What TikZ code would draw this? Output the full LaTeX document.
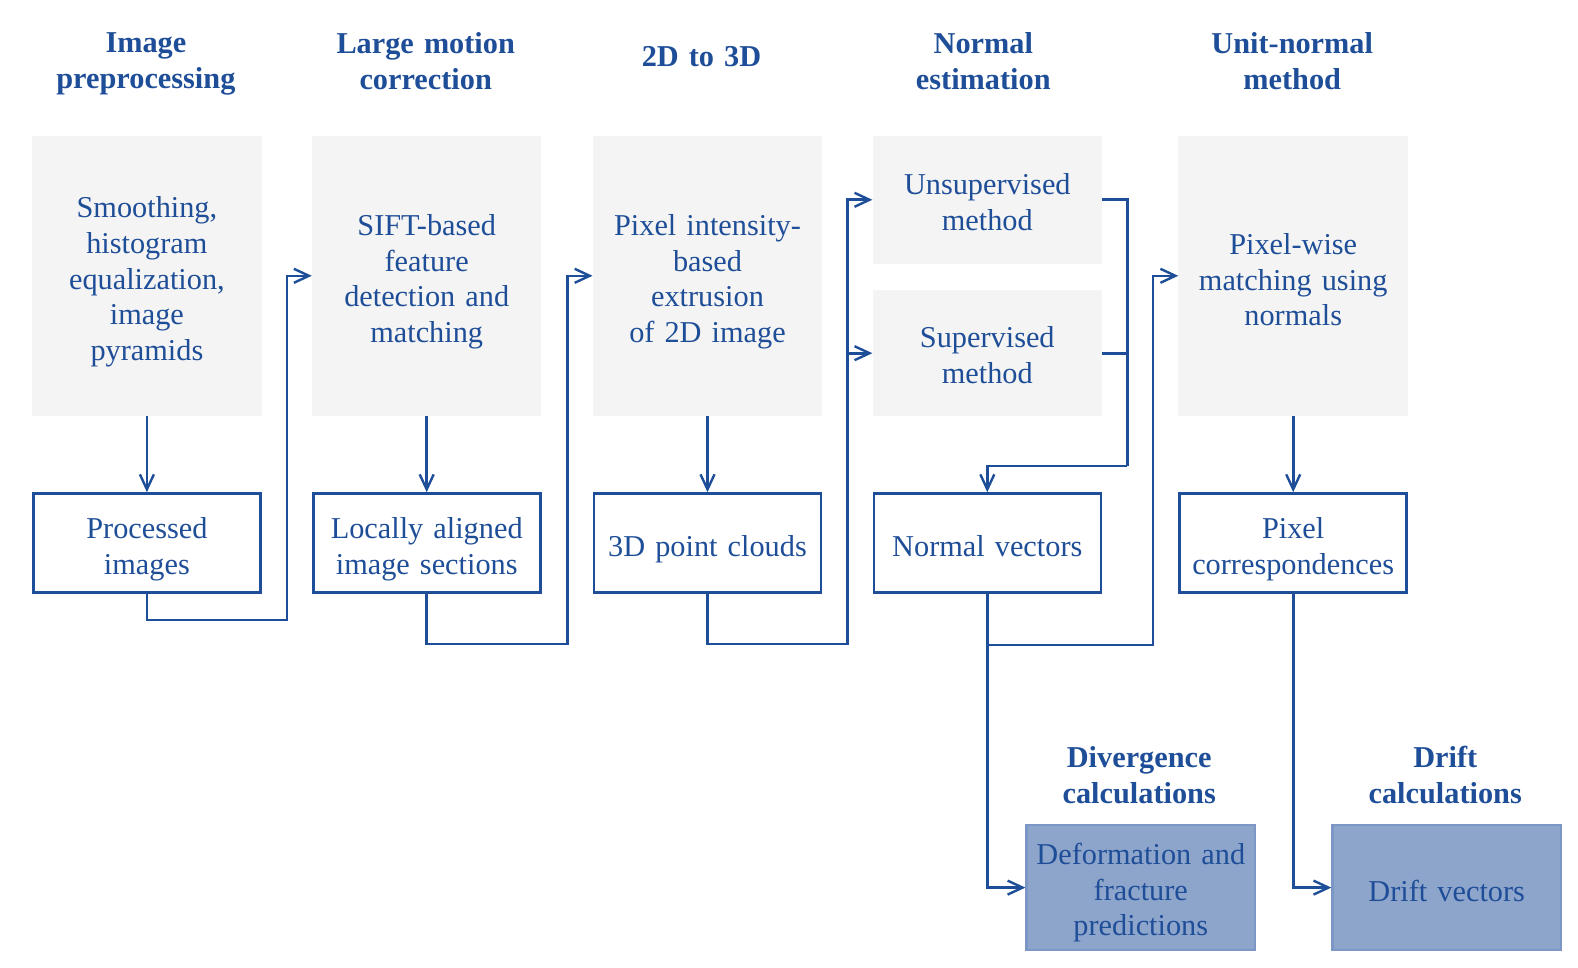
\documentclass[tikz,border=0pt]{standalone}
\usepackage{fontspec}
\setmainfont{Liberation Serif}
\usetikzlibrary{arrows.meta}
\definecolor{dblue}{HTML}{1F4E98}
\definecolor{boxgray}{HTML}{F4F4F4}
\definecolor{fillblue}{HTML}{8DA4CB}
\definecolor{fillborder}{HTML}{7C96C6}
\begin{document}%
\begin{tikzpicture}[x=1pt,y=-1pt,
  txt/.style={text=dblue, font=\fontsize{30.3}{35.7}\selectfont, align=center, inner sep=0pt, text width=226pt},
  hdr/.style={txt, font=\fontsize{30.3}{35.7}\selectfont\bfseries},
  gbox/.style={fill=boxgray, minimum width=229.5pt, inner sep=0pt},
  obox/.style={draw=dblue, line width=2.6pt, fill=white, minimum width=227pt, minimum height=99pt, inner sep=0pt},
  fbox/.style={draw=fillborder, line width=2.2pt, fill=fillblue, minimum width=228.5pt, minimum height=124.6pt, inner sep=0pt},
  conn/.style={draw=dblue, line width=2.6pt, -{Straight Barb[length=15pt,width=14pt,line width=2.4pt]}},
  plain/.style={draw=dblue, line width=2.6pt}]
\useasboundingbox (0,0) rectangle (1578,968);

% headers
\node[hdr] (h1) at (145.9,64) {Image\\preprocessing};
\node[hdr] (h2) at (425.7,61) {Large motion\\correction};
\node[hdr] (h3) at (701.5,57) {2D to 3D};
\node[hdr] (h4) at (983.3,61) {Normal\\estimation};
\node[hdr] (h5) at (1292.2,61) {Unit-normal\\method};
\node[hdr] (h6) at (1139.2,775) {Divergence\\calculations};
\node[hdr] (h7) at (1445.2,775) {Drift\\calculations};

% gray boxes
\node[gbox, minimum height=279.8pt] (b1) at (146.9,275.8) {};
\node[gbox, minimum height=279.8pt] (b2) at (426.7,275.8) {};
\node[gbox, minimum height=279.8pt] (b3) at (707.5,275.8) {};
\node[gbox, minimum height=127.8pt] (bu) at (987.3,199.8) {};
\node[gbox, minimum height=125.8pt] (bs) at (987.3,353.2) {};
\node[gbox, minimum height=279.8pt] (b5) at (1293.2,275.8) {};

% outlined boxes
\node[obox] (o1) at (146.9,543) {};
\node[obox] (o2) at (426.7,543) {};
\node[obox] (o3) at (707.5,543) {};
\node[obox] (o4) at (987.3,543) {};
\node[obox] (o5) at (1293.2,543) {};

% filled boxes
\node[fbox] (f1) at (1140.8,887.6) {};
\node[fbox] (f2) at (1446.7,887.6) {};

% box texts
\node[txt] (t1) at ([yshift=-6pt]b1.center) {Smoothing,\\histogram\\equalization,\\image\\pyramids};
\node[txt] (t2) at ([yshift=-6pt]b2.center) {SIFT-based\\feature\\detection and\\matching};
\node[txt] (t3) at ([yshift=-6pt]b3.center) {Pixel intensity-\\based\\extrusion\\of 2D image};
\node[txt] (tu) at ([yshift=-2pt]bu.center) {Unsupervised\\method};
\node[txt] (ts) at ([yshift=-2pt]bs.center) {Supervised\\method};
\node[txt] (t5) at ([yshift=-4pt]b5.center) {Pixel-wise\\matching using\\normals};
\node[txt] (s1) at ([yshift=-6pt]o1.center) {Processed\\images};
\node[txt] (s2) at ([yshift=-6pt]o2.center) {Locally aligned\\image sections};
\node[txt] (s3) at ([yshift=-6pt]o3.center) {3D point clouds};
\node[txt] (s4) at ([yshift=-3pt]o4.center) {Normal vectors};
\node[txt] (s5) at ([yshift=-6pt]o5.center) {Pixel\\correspondences};
\node[txt] (u1) at ([yshift=-5pt]f1.center) {Deformation and\\fracture\\predictions};
\node[txt] (u2) at ([yshift=-3pt]f2.center) {Drift vectors};

% junction coordinates
\coordinate (j1) at (146.9,620);
\coordinate (j2) at (286.8,275.8);
\coordinate (j3) at (426.7,644.1);
\coordinate (j4) at (567.6,275.8);
\coordinate (j5) at (707.5,644.1);
\coordinate (j6) at (847.4,199.8);
\coordinate (j6b) at (847.4,353.2);
\coordinate (j7) at (1127.2,199.8);
\coordinate (j7b) at (1127.2,353.2);
\coordinate (j8) at (1127.2,466);
\coordinate (j9) at (987.3,466);
\coordinate (j10) at (987.3,645.1);
\coordinate (j11) at (1152.8,275.8);

% connectors
\draw[conn] (b1.south) -- (o1.north);
\draw[conn] (b2.south) -- (o2.north);
\draw[conn] (b3.south) -- (o3.north);
\draw[conn] (b5.south) -- (o5.north);

\draw[conn] (o1.south) -- (j1) -| (j2) -- (b2.west);
\draw[conn] (o2.south) -- (j3) -| (j4) -- (b3.west);
\draw[conn] (o3.south) -- (j5) -| (j6) -- (bu.west);
\draw[conn] (j6b) -- (bs.west);

\draw[plain] (bu.east) -- (j7) -- (j8);
\draw[plain] (bs.east) -- (j7b);
\draw[conn] (j8) -- (j9) -- (o4.north);

\draw[conn] (o4.south) -- (j10) -| (j11) -- (b5.west);
\draw[conn] (j10) |- (f1.west);
\draw[conn] (o5.south) |- (f2.west);
\end{tikzpicture}%
\end{document}
